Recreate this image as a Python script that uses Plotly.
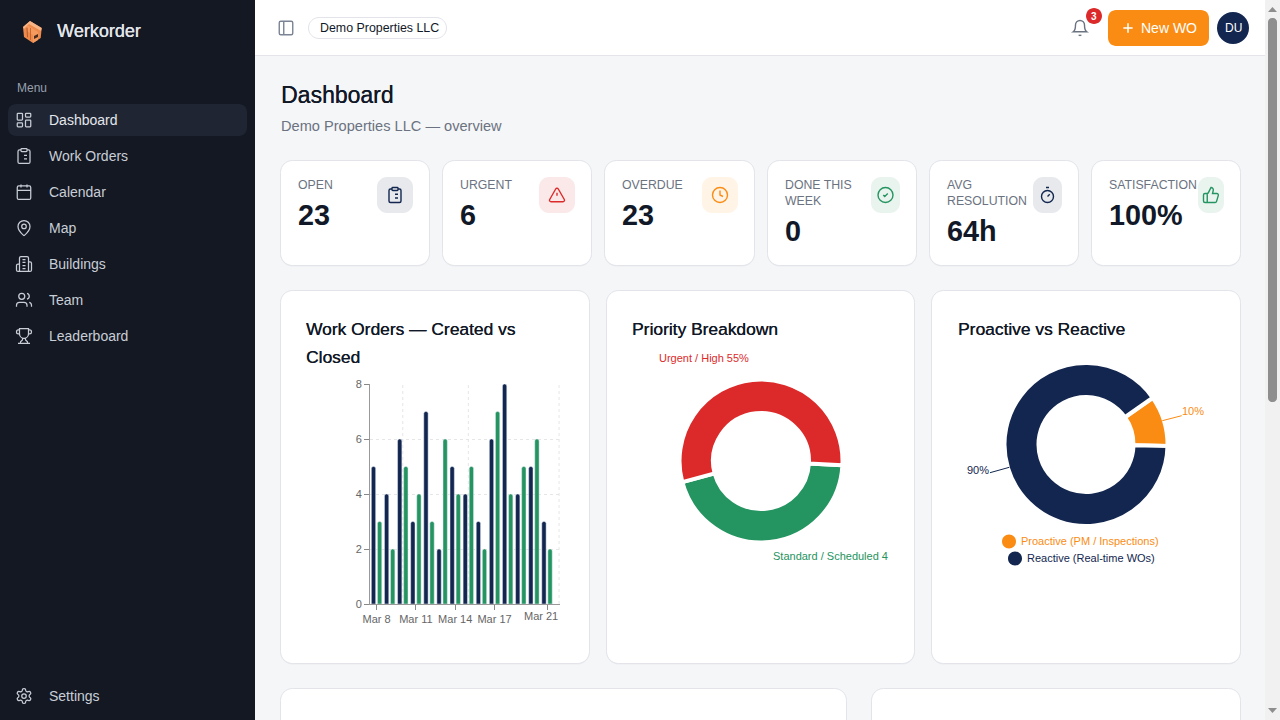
import math, re
import plotly.graph_objects as go

# ---------- data ----------
dates = ["Mar 8","Mar 9","Mar 10","Mar 11","Mar 12","Mar 13","Mar 14","Mar 15","Mar 16","Mar 17","Mar 18","Mar 19","Mar 20","Mar 21"]
created = [5,4,6,3,7,2,5,4,3,6,8,4,5,3]
closed = [3,2,5,4,3,6,4,5,2,7,4,5,6,2]
shown_dates = ["Mar 8","Mar 11","Mar 14","Mar 17","Mar 21"]
grid_dates = ["Mar 10","Mar 15"]
y_ticks = [0,2,4,6,8]

priority_labels = ["Standard / Scheduled","Urgent / High"]
priority_values = [45,55]
mix_labels = ["Proactive (PM / Inspections)","Reactive (Real-time WOs)"]
mix_values = [10,90]

nav_labels = ["Dashboard","Work Orders","Calendar","Map","Buildings","Team","Leaderboard"]
stat_labels = [["OPEN"],["URGENT"],["OVERDUE"],["DONE THIS","WEEK"],["AVG","RESOLUTION"],["SATISFACTION"]]
stat_values = ["23","6","23","0","64h","100%"]

# ---------- palette ----------
NAVY="#12264f"; GREEN="#249460"; RED="#dc2a2a"; ORANGE="#fb8c13"
SIDE="#131823"; BG="#f5f6f8"; BORDER="#e2e4ea"; INK="#111827"; MUTED="#6b7280"
UI="Liberation Sans"; CHART="Liberation Sans"
W,H=1280,720
def PX(v): return v/W
def PY(v): return 1-v/H

# ---------- svg path helpers (pixel coordinates -> paper coordinates) ----------
def arc2cubic(x1,y1,rx,ry,fa,fs,x2,y2):
    if rx==0 or ry==0 or (x1==x2 and y1==y2): return [(x1,y1,x2,y2,x2,y2)]
    dx,dy=(x1-x2)/2,(y1-y2)/2
    l=dx*dx/(rx*rx)+dy*dy/(ry*ry)
    if l>1: rx*=math.sqrt(l); ry*=math.sqrt(l)
    n=rx*rx*ry*ry-rx*rx*dy*dy-ry*ry*dx*dx
    d=rx*rx*dy*dy+ry*ry*dx*dx
    c=math.sqrt(max(0,n/d))*(1 if fa!=fs else -1)
    cxp,cyp=c*rx*dy/ry,-c*ry*dx/rx
    cx,cy=cxp+(x1+x2)/2,cyp+(y1+y2)/2
    t1=math.atan2((dy-cyp)/ry,(dx-cxp)/rx)
    t2=math.atan2((-dy-cyp)/ry,(-dx-cxp)/rx)
    dt=t2-t1
    if fs and dt<0: dt+=2*math.pi
    if not fs and dt>0: dt-=2*math.pi
    k=max(1,math.ceil(abs(dt)/(math.pi/2)-1e-9))
    out=[]; step=dt/k; a=4/3*math.tan(step/4)
    for i in range(k):
        p=t1+i*step; q=p+step
        out.append((cx+rx*(math.cos(p)-a*math.sin(p)),cy+ry*(math.sin(p)+a*math.cos(p)),
                    cx+rx*(math.cos(q)+a*math.sin(q)),cy+ry*(math.sin(q)-a*math.cos(q)),
                    cx+rx*math.cos(q),cy+ry*math.sin(q)))
    return out

def to_paper(d,ox=0,oy=0,s=1):
    """parse an svg path, return absolute M/L/C path in paper coordinates"""
    toks=re.findall(r"[MmLlHhVvCcAaZz]|-?\d*\.?\d+",d)
    i=0;x=y=sx=sy=0;cmd=None;out=[]
    X=lambda v:PX(ox+v*s)
    Y=lambda v:PY(oy+v*s)
    def num():
        nonlocal i
        v=float(toks[i]); i+=1; return v
    while i<len(toks):
        if re.match(r"[A-Za-z]",toks[i]):
            cmd=toks[i]; i+=1
            if cmd in "Zz":
                out.append("Z"); x,y=sx,sy; continue
        rel=cmd.islower(); C=cmd.upper()
        if C=="M":
            nx,ny=num(),num()
            if rel: nx+=x; ny+=y
            x,y=nx,ny; sx,sy=x,y
            out.append(f"M{X(x):.6f},{Y(y):.6f}"); cmd="l" if rel else "L"
        elif C=="L":
            nx,ny=num(),num()
            if rel: nx+=x; ny+=y
            x,y=nx,ny; out.append(f"L{X(x):.6f},{Y(y):.6f}")
        elif C=="H":
            nx=num(); x=nx+x if rel else nx
            out.append(f"L{X(x):.6f},{Y(y):.6f}")
        elif C=="V":
            ny=num(); y=ny+y if rel else ny
            out.append(f"L{X(x):.6f},{Y(y):.6f}")
        elif C=="C":
            v=[num() for _ in range(6)]
            if rel: v=[v[j]+(x if j%2==0 else y) for j in range(6)]
            out.append(f"C{X(v[0]):.6f},{Y(v[1]):.6f} {X(v[2]):.6f},{Y(v[3]):.6f} {X(v[4]):.6f},{Y(v[5]):.6f}")
            x,y=v[4],v[5]
        elif C=="A":
            rx,ry,_,fa,fs,nx,ny=[num() for _ in range(7)]
            if rel: nx+=x; ny+=y
            for c in arc2cubic(x,y,rx,ry,int(fa),int(fs),nx,ny):
                out.append(f"C{X(c[0]):.6f},{Y(c[1]):.6f} {X(c[2]):.6f},{Y(c[3]):.6f} {X(c[4]):.6f},{Y(c[5]):.6f}")
            x,y=nx,ny
    return " ".join(out)

def rr(x,y,w,h,r):
    return f"M{x+r} {y}H{x+w-r}A{r} {r} 0 0 1 {x+w} {y+r}V{y+h-r}A{r} {r} 0 0 1 {x+w-r} {y+h}H{x+r}A{r} {r} 0 0 1 {x} {y+h-r}V{y+r}A{r} {r} 0 0 1 {x+r} {y}Z"
def ci(cx,cy,r):
    return f"M{cx-r} {cy}A{r} {r} 0 1 1 {cx+r} {cy}A{r} {r} 0 1 1 {cx-r} {cy}Z"

shapes=[]; notes=[]
def fill(d,color,line=None,lw=0,layer="below"):
    shapes.append(dict(type="path",xref="paper",yref="paper",path=to_paper(d),fillcolor=color,
                       line=dict(color=line or color,width=lw),layer=layer))
def icon(name,cx,cy,color,size=18,lw=1.4):
    s=size/24
    shapes.append(dict(type="path",xref="paper",yref="paper",path=to_paper(ICONS[name],cx-size/2,cy-size/2,s),
                       fillcolor="rgba(0,0,0,0)",line=dict(color=color,width=lw),layer="below"))
def T(x,y,text,size,color,weight=400,family=UI,anchor="left",thick=False):
    f=dict(family=family,size=size,color=color,weight=weight)
    if thick: f["shadow"]=f"0.25px 0 0 {color}"
    notes.append(dict(xref="paper",yref="paper",x=PX(x),y=PY(y),text=text,showarrow=False,xanchor=anchor,yanchor="middle",
                      borderpad=0,font=f))

ICONS={
"dash":rr(3,3,7,9,1)+rr(14,3,7,5,1)+rr(14,12,7,9,1)+rr(3,16,7,5,1),
"clip":rr(8,2,8,4,1)+"M16 4h2a2 2 0 0 1 2 2v14a2 2 0 0 1-2 2H6a2 2 0 0 1-2-2V6a2 2 0 0 1 2-2h2M12 11h4M12 16h4M8 11h.01M8 16h.01",
"cal":rr(3,4,18,18,2)+"M16 2v4M8 2v4M3 10h18M8 14h.01M12 14h.01M16 14h.01M8 18h.01M12 18h.01M16 18h.01",
"pin":"M20 10c0 4.993-5.539 10.193-7.399 11.799a1 1 0 0 1-1.202 0C9.539 20.193 4 14.993 4 10a8 8 0 0 1 16 0"+ci(12,10,3),
"bld":"M6 22V4a2 2 0 0 1 2-2h8a2 2 0 0 1 2 2v18ZM6 12H4a2 2 0 0 0-2 2v6a2 2 0 0 0 2 2h2M18 9h2a2 2 0 0 1 2 2v9a2 2 0 0 1-2 2h-2M10 6h4M10 10h4M10 14h4M10 18h4",
"users":"M16 21v-2a4 4 0 0 0-4-4H6a4 4 0 0 0-4 4v2"+ci(9,7,4)+"M22 21v-2a4 4 0 0 0-3-3.87M16 3.13a4 4 0 0 1 0 7.75",
"trophy":"M6 9H4.5a2.5 2.5 0 0 1 0-5H6M18 9h1.5a2.5 2.5 0 0 0 0-5H18M4 22h16M10 14.66V17c0 .55-.47.98-.97 1.21C7.85 18.75 7 20.24 7 22M14 14.66V17c0 .55.47.98.97 1.21C16.15 18.75 17 20.24 17 22M18 2H6v7a6 6 0 0 0 12 0V2Z",
"gear":"M12.22 2h-.44a2 2 0 0 0-2 2v.18a2 2 0 0 1-1 1.73l-.43.25a2 2 0 0 1-2 0l-.15-.08a2 2 0 0 0-2.73.73l-.22.38a2 2 0 0 0 .73 2.73l.15.1a2 2 0 0 1 1 1.72v.51a2 2 0 0 1-1 1.74l-.15.09a2 2 0 0 0-.73 2.73l.22.38a2 2 0 0 0 2.73.73l.15-.08a2 2 0 0 1 2 0l.43.25a2 2 0 0 1 1 1.73V20a2 2 0 0 0 2 2h.44a2 2 0 0 0 2-2v-.18a2 2 0 0 1 1-1.73l.43-.25a2 2 0 0 1 2 0l.15.08a2 2 0 0 0 2.73-.73l.22-.39a2 2 0 0 0-.73-2.73l-.15-.08a2 2 0 0 1-1-1.74v-.5a2 2 0 0 1 1-1.74l.15-.09a2 2 0 0 0 .73-2.73l-.22-.38a2 2 0 0 0-2.73-.73l-.15.08a2 2 0 0 1-2 0l-.43-.25a2 2 0 0 1-1-1.73V4a2 2 0 0 0-2-2z"+ci(12,12,3),
"panel":rr(3,3,18,18,2)+"M9 3v18",
"bell":"M6 8a6 6 0 0 1 12 0C18 15 21 17 21 17H3C3 17 6 15 6 8M10.3 21a1.94 1.94 0 0 0 3.4 0",
"plus":"M5 12h14M12 5v14",
"tri":"M21.73 18l-8-14a2 2 0 0 0-3.48 0l-8 14A2 2 0 0 0 4 21h16a2 2 0 0 0 1.73-3ZM12 9v4M12 17h.01",
"clock":ci(12,12,10)+"M12 6v6l4 2",
"check":ci(12,12,10)+"M9 12l2 2 4-4",
"timer":"M10 2h4M12 14l3-3"+ci(12,14,8),
"thumb":"M7 10v12M15 5.88L14 10h5.83a2 2 0 0 1 1.92 2.56l-2.33 8A2 2 0 0 1 17.5 22H4a2 2 0 0 1-2-2v-8a2 2 0 0 1 2-2h2.76a2 2 0 0 0 1.79-1.11L12 2a3.13 3.13 0 0 1 3 3.88Z",
}

# ---------- page chrome ----------
fill("M0 0H255V720H0Z",SIDE)
fill("M255 0H1265V55H255Z","#ffffff")
fill("M255 55H1265V56H255Z","#e3e5ea")
fill("M1265 0H1280V720H1265Z","#f1f1f1")
fill(rr(1268,18,9,384,4),"#8e8e8e")
fill("M1272.5 7L1277 12H1268Z","#8e8e8e")
fill("M1268 708H1277L1272.5 713Z","#8e8e8e")

def card(x0,y0,x1,y1,r=12):
    fill(rr(x0-.5,y0+.5,x1-x0+1,y1-y0+1,r),"#e9ebef")
    fill(rr(x0-.5,y0-.5,x1-x0+1,y1-y0+1,r),"#ffffff","#e2e4ea",1)

# sidebar
fill(rr(8,104,239,32,8),"#1f2533")
T(16,88,"Menu",12,"#98a0ad")
T(56,31,"Werkorder",18,"#e2e5ea",thick=True)
nav_icons=["dash","clip","cal","pin","bld","users","trophy"]
for i,(lab,ic) in enumerate(zip(nav_labels,nav_icons)):
    yy=120+36*i
    T(48,yy,lab,14,"#e4e7ec" if i==0 else "#c9ced6")
    icon(ic,24,yy,"#c9ced6",lw=1.25)
T(48,696,"Settings",14,"#c9ced6")
icon("gear",24,696,"#c9ced6",lw=1.25)

# logo
fill("M30 21L41.7 28L40.7 38L33 43L24 37L23 27Z","#ee8a4c")
fill("M30 21L41.7 28L41 31L29 24L24 29L23 27Z","#f7b486")
fill("M27 25L38 32L38 40L33 43L33 35L27 31Z","#f59a5e")
fill("M26.5 28L27.5 27.5L28 37.5L27 37Z","#b65a2a")
fill("M30 28L31 28L31 40L30 40Z","#c9672f")
fill("M34 36L38 34L38 37L34 39Z","#4a2b1d")

# header
icon("panel",286,28,"#7b8494")
fill(rr(308.5,17.5,138,21,10.5),"#ffffff","#e2e4ea",1)
T(319,28,"Demo Properties LLC",12.4,INK)
icon("bell",1080,28,"#6b7280")
fill(ci(1094,16,8),RED)
T(1094,16,"3",10,"#ffffff",700,anchor="center")
fill(rr(1108,10,101,36,8),ORANGE)
icon("plus",1128,28,"#ffffff",16,1.5)
T(1140,28,"New WO",14,"#ffffff")
fill(ci(1233,28,16),NAVY)
T(1233,28,"DU",12,"#ffffff",anchor="center")

# page title
T(280,95,"Dashboard",23,INK,thick=True)
T(280,126,"Demo Properties LLC — overview",14.6,MUTED)

# stat cards
stat_x=[(281,429),(443,591),(605,754),(768,916),(930,1078),(1092,1240)]
stat_box=[(377,413),(539,575),(702,738),(871,900),(1033,1062),(1198,1224)]
stat_tint=["#e7e9ed","#fbe9e9","#fff4e6","#e9f4ef","#e7e9ed","#e9f4ef"]
stat_ink=[NAVY,RED,ORANGE,GREEN,NAVY,GREEN]
stat_icon=["clip","tri","clock","check","timer","thumb"]
for (x0,x1),(b0,b1),tint,ink,ic,labs,val in zip(stat_x,stat_box,stat_tint,stat_ink,stat_icon,stat_labels,stat_values):
    card(x0,161,x1,265)
    fill(rr(b0,177,b1-b0,36,10),tint)
    icon(ic,(b0+b1)/2,195,ink)
    for j,l in enumerate(labs):
        T(x0+16,185+16*j,l,12.3,MUTED)
    T(x0+16,215+16*(len(labs)-1),val,28.8,INK,700)

# chart cards
card(281,291,589,663); card(607,291,914,663); card(932,291,1240,663)
card(281,689,846,760); card(872,689,1240,760)
T(305,328.5,"Work Orders — Created vs",17.4,INK,thick=True)
T(305,356.5,"Closed",17.4,INK,thick=True)
T(631,328.5,"Priority Breakdown",17.4,INK,thick=True)
T(957,328.5,"Proactive vs Reactive",17.4,INK,thick=True)

# chart labels
T(658,358,f"{priority_labels[1]} {priority_values[1]}%",11,RED,family=CHART)
T(772,556,"Standard / Scheduled 4",11,GREEN,family=CHART)
T(1181,411,f"{mix_values[0]}%",11,ORANGE,family=CHART)
T(966,470,f"{mix_values[1]}%",11,NAVY,family=CHART)
fill("M1162.3 420.7L1181.7 415.7",  "rgba(0,0,0,0)",ORANGE,1,"above")
fill("M1009.3 467.3L990 472.7","rgba(0,0,0,0)",NAVY,1,"above")
fill(ci(1009,541.5,7),ORANGE)
fill(ci(1015,558.5,7),NAVY)
T(1020,541,mix_labels[0],11,ORANGE,family=CHART)
T(1026,558,mix_labels[1],11,NAVY,family=CHART)

# ---------- bar chart ----------
fig=go.Figure()
bar_style=dict(cornerradius=2)
fig.add_bar(x=dates,y=created,name="Created",marker=dict(color=NAVY,**bar_style))
fig.add_bar(x=dates,y=closed,name="Closed",marker=dict(color=GREEN,**bar_style))
GRID=dict(color="#e6e6e6",width=1,dash="3px,3px")
for d in grid_dates:
    shapes.append(dict(type="line",xref="x",yref="y",x0=d,x1=d,y0=0,y1=8,line=GRID,layer="below"))
shapes.append(dict(type="line",xref="x domain",yref="y",x0=.995,x1=.995,y0=0,y1=8,line=GRID,layer="below"))
notes.append(dict(xref="x",yref="paper",x=shown_dates[-1],xshift=-6,y=PY(616),text=shown_dates[-1],showarrow=False,yanchor="middle",
                  font=dict(family=CHART,size=11,color="#666666")))

# ---------- donuts ----------
def donut(cx,cy,r,inner,labels,values,colors,rot,gap):
    R=r+gap/2; I=inner-gap/2
    fig.add_pie(labels=labels,values=values,sort=False,direction="clockwise",rotation=rot,hole=I/R,
                marker=dict(colors=colors,line=dict(color="#ffffff",width=gap)),textinfo="none",hoverinfo="label+percent",showlegend=False,
                domain=dict(x=[PX(cx-R),PX(cx+R)],y=[PY(cy+R),PY(cy-R)]))
donut(761,461,79.5,50,priority_labels,priority_values,[GREEN,RED],93,4)
donut(1086,444.5,79.5,49.5,mix_labels,mix_values,[ORANGE,NAVY],55,4)

fig.update_layout(
    width=W,height=H,margin=dict(l=0,r=0,t=0,b=0,pad=0,autoexpand=False),autosize=False,
    paper_bgcolor=BG,plot_bgcolor="rgba(0,0,0,0)",showlegend=False,
    barmode="group",bargap=0.07,bargroupgap=0.29,
    shapes=shapes,annotations=notes,
    xaxis=dict(domain=[PX(370),PX(560)],type="category",categoryorder="array",categoryarray=dates,
               tickmode="array",tickvals=shown_dates,ticktext=shown_dates[:-1]+[""],ticks="outside",ticklen=5,tickcolor="#888888",
               showline=True,linecolor="#999999",showgrid=False,tickangle=0,
               tickfont=dict(family=CHART,size=11,color="#666666")),
    yaxis=dict(domain=[PY(604),PY(384)],range=[0,8],tickvals=y_ticks,ticks="outside",ticklen=5,tickcolor="#888888",
               showline=True,linecolor="#999999",showgrid=True,gridcolor="#e6e6e6",griddash="3px,3px",zeroline=False,
               tickfont=dict(family=CHART,size=11,color="#666666")),
)
fig.write_html("out.html",config=dict(displayModeBar=False),
               post_script="document.body.style.margin='0';document.documentElement.style.overflow='hidden';")
